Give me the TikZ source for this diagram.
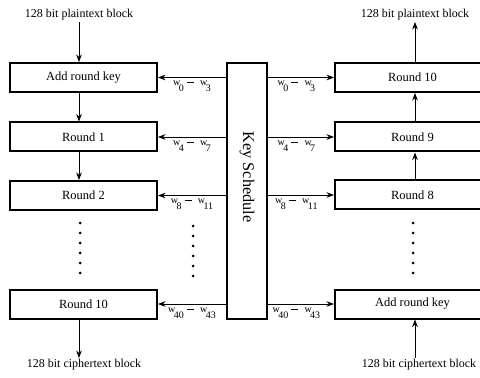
\documentclass[tikz,border=0pt]{standalone}
\usepackage{fontspec}
\setmainfont{Liberation Serif}
\usetikzlibrary{positioning,arrows.meta}
\newcommand{\wsub}[1]{w\kern-.15em\raisebox{-1.35ex}{#1}}
\newcommand{\wrange}[2]{\wsub{#1}\hspace{2.5pt}\rule[.6ex]{5.5pt}{.5pt}\hspace{5pt}\wsub{#2}}

\begin{document}
\begin{tikzpicture}[x=0.8pt,y=-0.8pt,>={Stealth[length=6pt,width=4.5pt]},
    rnd/.style={draw,line width=1.6pt,minimum height=23.2pt,inner sep=0pt,font=\fontsize{10}{12}\selectfont},
    lrnd/.style={rnd,minimum width=117.6pt},
    rrnd/.style={rnd,minimum width=124pt},
    io/.style={inner sep=1pt,font=\fontsize{9.6}{11}\selectfont},
    flow/.style={->,line width=0.7pt},
    wlbl/.style={below,yshift=-1.5pt,inner sep=1pt,font=\fontsize{8}{9}\selectfont}]

    \useasboundingbox (0,0) rectangle (480,378);
    \clip (0,0) rectangle (480,378);

    % Encryption
    \node [io] (ptl) at (79,15) {128 bit plaintext block};
    \node [lrnd] (arkl) at (83.5,77.5) {Add round key};
    \node [lrnd] (r1l) at (83.5,137) {Round 1};
    \node [lrnd] (r2l) at (83.5,195.5) {Round 2};
    \node [lrnd] (r10l) at (83.5,304) {Round 10};
    \node [io] (ctl) at (84,365) {128 bit ciphertext block};

    % Key schedule
    \node [draw,line width=1.6pt,minimum width=32pt,minimum height=204.8pt,inner sep=0pt] (ks) at (247,191) {};
    \node [rotate=-90,font=\fontsize{13}{15}\selectfont] (kst) at (247,177) {Key Schedule};

    % Decryption
    \node [io] (ptr) at (415,15) {128 bit plaintext block};
    \node [rrnd] (r10r) at (412.5,77.5) {Round 10};
    \node [rrnd] (r9r) at (412.5,137) {Round 9};
    \node [rrnd] (r8r) at (412.5,195) {Round 8};
    \node [rrnd] (arkr) at (412.5,304) {Add round key};
    \node [io] (ctr) at (419,365) {128 bit ciphertext block};

    % Data flow
    \draw[flow] (ptl.south) -- (ptl.south |- arkl.north);
    \draw[flow] (arkl.south -| ptl) -- (r1l.north -| ptl);
    \draw[flow] (r1l.south -| ptl) -- (r2l.north -| ptl);
    \draw[flow] (r10l.south -| ptl) -- (ctl.north -| ptl);

    \draw[flow] (ctr.north -| ptr) -- (arkr.south -| ptr);
    \draw[flow] (r8r.north -| ptr) -- (r9r.south -| ptr);
    \draw[flow] (r9r.north -| ptr) -- (r10r.south -| ptr);
    \draw[flow] (r10r.north -| ptr) -- (ptr.south);

    % Round keys
    \draw[flow] (ks.west |- arkl) -- (arkl.east) node[wlbl,midway] (k0l) {\wrange{0}{3}};
    \draw[flow] (ks.west |- r1l) -- (r1l.east) node[wlbl,midway] (k1l) {\wrange{4}{7}};
    \draw[flow] (ks.west |- r2l) -- (r2l.east) node[wlbl,midway] (k2l) {\wrange{8}{11}};
    \draw[flow] (ks.west |- r10l) -- (r10l.east) node[wlbl,midway] (k10l) {\wrange{40}{43}};

    \draw[flow] (ks.east |- r10r) -- (r10r.west) node[wlbl,pos=0.43] (k0r) {\wrange{0}{3}};
    \draw[flow] (ks.east |- r9r) -- (r9r.west) node[wlbl,pos=0.43] (k1r) {\wrange{4}{7}};
    \draw[flow] (ks.east |- r8r) -- (r8r.west) node[wlbl,pos=0.43] (k2r) {\wrange{8}{11}};
    \draw[flow] (ks.east |- arkr) -- (arkr.west) node[wlbl,pos=0.43] (k10r) {\wrange{40}{43}};

    % Omitted rounds
    \foreach \y in {223,233,...,273} {
        \fill (80,\y) circle (1.2pt);
        \fill (193,\y+3) circle (1.2pt);
        \fill (413,\y) circle (1.2pt);
    }

\end{tikzpicture}
\end{document}
